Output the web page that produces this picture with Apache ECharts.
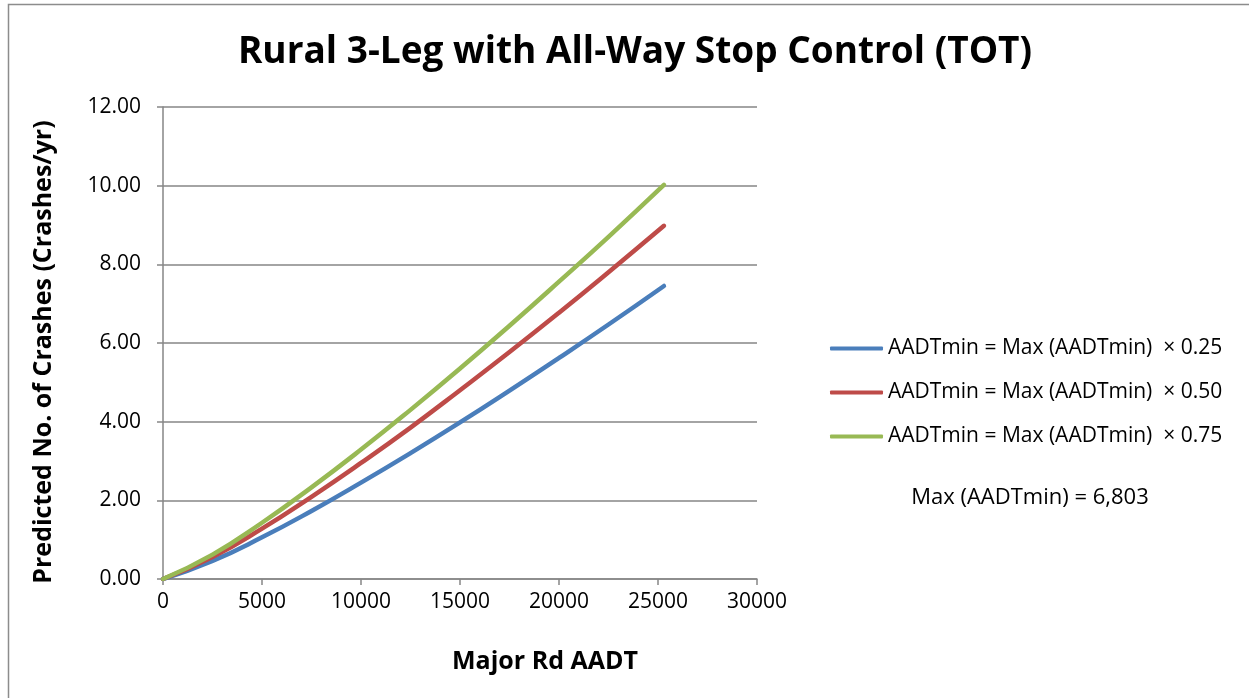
<!DOCTYPE html>
<html>
<head>
<meta charset="utf-8">
<script src="https://cdn.jsdelivr.net/npm/echarts@6/dist/echarts.min.js"></script>
<style>
    html, body { margin: 0; padding: 0; background: #fff; }
    #chart { width: 1249px; height: 698px; }
</style>
</head>
<body>
<div id="chart"></div>
<script>
// values
var aadt = [0, 2500, 5000, 7500, 10000, 12500, 15000, 17500, 20000, 22500, 25300];
var crashes25 = [0, 0.46, 1.06, 1.73, 2.45, 3.20, 3.98, 4.79, 5.62, 6.47, 7.45];
var crashes50 = [0, 0.56, 1.28, 2.09, 2.95, 3.85, 4.80, 5.77, 6.77, 7.80, 8.98];
var crashes75 = [0, 0.62, 1.43, 2.33, 3.29, 4.30, 5.35, 6.44, 7.56, 8.70, 10.02];
var seriesNames = [
    'AADTmin = Max (AADTmin)  \u00d7 0.25',
    'AADTmin = Max (AADTmin)  \u00d7 0.50',
    'AADTmin = Max (AADTmin)  \u00d7 0.75'
];
var colors = ['#4a7ebb', '#be4b48', '#98b954'];

var font = '"Open Sans", Lato, sans-serif';

function pairs(ys) {
    var out = [];
    for (var i = 0; i < aadt.length; i++) {
        out.push([aadt[i], ys[i]]);
    }
    return out;
}

var chart = echarts.init(document.getElementById('chart'));

var option = {
    backgroundColor: '#fff',
    animation: false,
    title: {
        text: 'Rural 3-Leg with All-Way Stop Control (TOT)',
        left: 630,
        textAlign: 'center',
        top: 29,
        textStyle: {
            fontFamily: font,
            fontSize: 37,
            fontWeight: 'bold',
            color: '#000'
        }
    },
    grid: {
        left: 163,
        right: 492,
        top: 107,
        bottom: 119
    },
    legend: {
        orient: 'vertical',
        left: 825,
        top: 333,
        itemGap: 23,
        itemWidth: 53,
        itemHeight: 4,
        icon: 'roundRect',
        textStyle: {
            fontFamily: font,
            fontSize: 21,
            color: '#000'
        },
        data: seriesNames
    },
    xAxis: {
        type: 'value',
        min: 0,
        max: 30000,
        interval: 5000,
        axisLine: { show: true, lineStyle: { color: '#868686', width: 1.5 } },
        axisTick: { show: true, length: 6, lineStyle: { color: '#868686', width: 1.5 } },
        splitLine: { show: false },
        axisLabel: {
            fontFamily: font,
            fontSize: 21,
            color: '#000',
            margin: 13,
            formatter: function (v) { return String(v); }
        }
    },
    yAxis: {
        type: 'value',
        min: 0,
        max: 12,
        interval: 2,
        axisLine: { show: true, lineStyle: { color: '#868686', width: 1.5 } },
        axisTick: { show: true, length: 6, lineStyle: { color: '#868686', width: 1.5 } },
        splitLine: { show: true, lineStyle: { color: '#868686', width: 1.5 } },
        axisLabel: {
            fontFamily: font,
            fontSize: 21,
            color: '#000',
            margin: 22,
            formatter: function (v) { return v.toFixed(2); }
        }
    },
    series: [
        {
            name: seriesNames[0],
            type: 'line',
            smooth: true,
            symbol: 'none',
            lineStyle: { width: 4.5, color: colors[0], cap: 'round' },
            itemStyle: { color: colors[0] },
            data: pairs(crashes25)
        },
        {
            name: seriesNames[1],
            type: 'line',
            smooth: true,
            symbol: 'none',
            lineStyle: { width: 4.5, color: colors[1], cap: 'round' },
            itemStyle: { color: colors[1] },
            data: pairs(crashes50)
        },
        {
            name: seriesNames[2],
            type: 'line',
            smooth: true,
            symbol: 'none',
            lineStyle: { width: 4.5, color: colors[2], cap: 'round' },
            itemStyle: { color: colors[2] },
            data: pairs(crashes75)
        }
    ],
    graphic: [
        {
            type: 'rect',
            shape: { x: 8.5, y: 4.5, width: 1300, height: 800 },
            style: { fill: 'none', stroke: '#8c8c8c', lineWidth: 1.5 },
            silent: true
        },
        {
            // y axis title, placed by hand (sits a bit below the plot centre)
            type: 'text',
            x: 44,
            y: 352,
            rotation: Math.PI / 2,
            style: {
                text: 'Predicted No. of Crashes (Crashes/yr)',
                font: 'bold 25px ' + font,
                fill: '#000',
                align: 'center',
                verticalAlign: 'middle'
            }
        },
        {
            type: 'text',
            x: 545,
            y: 662,
            style: {
                text: 'Major Rd AADT',
                font: 'bold 25px ' + font,
                fill: '#000',
                align: 'center',
                verticalAlign: 'middle'
            }
        },
        {
            type: 'text',
            x: 1030,
            y: 498,
            style: {
                text: 'Max (AADTmin) = 6,803',
                font: '22px ' + font,
                fill: '#000',
                align: 'center',
                verticalAlign: 'middle'
            }
        }
    ]
};

chart.setOption(option);
</script>
</body>
</html>
